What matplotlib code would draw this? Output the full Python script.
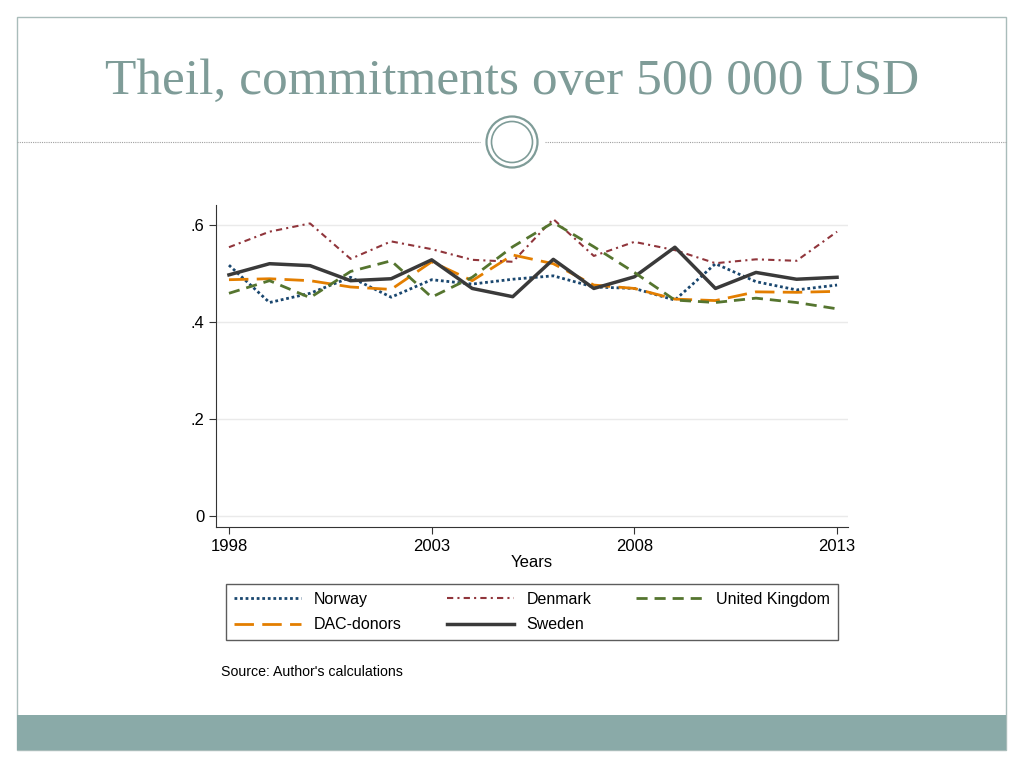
import matplotlib.pyplot as plt
from matplotlib.patches import Rectangle, Circle

plt.rcParams["font.family"] = ["Liberation Sans", "DejaVu Sans"]

# ---------------------------------------------------------------------------
# Data (Theil index)
# ---------------------------------------------------------------------------
years = list(range(1998, 2014))

norway = [0.517, 0.440, 0.459, 0.492, 0.451, 0.487, 0.478, 0.488,
          0.495, 0.472, 0.469, 0.445, 0.520, 0.483, 0.466, 0.476]
denmark = [0.554, 0.586, 0.603, 0.530, 0.566, 0.550, 0.528, 0.524,
           0.612, 0.536, 0.565, 0.548, 0.521, 0.529, 0.526, 0.586]
uk = [0.459, 0.485, 0.450, 0.504, 0.526, 0.451, 0.492, 0.555,
      0.605, 0.555, 0.502, 0.445, 0.440, 0.449, 0.440, 0.427]
dac = [0.487, 0.489, 0.485, 0.472, 0.467, 0.524, 0.485, 0.538,
       0.520, 0.476, 0.469, 0.447, 0.444, 0.462, 0.461, 0.463]
sweden = [0.497, 0.520, 0.516, 0.485, 0.489, 0.528, 0.469, 0.452,
          0.529, 0.469, 0.493, 0.554, 0.469, 0.502, 0.488, 0.492]

y_ticks = [0, 0.2, 0.4, 0.6]
y_tick_labels = ["0", ".2", ".4", ".6"]
x_ticks = [1998, 2003, 2008, 2013]

TEAL = "#7f9c98"

fig = plt.figure(figsize=(10.24, 7.68), dpi=100)

# ---------------------------------------------------------------------------
# Slide decoration
# ---------------------------------------------------------------------------
fig.patches.append(Rectangle((17 / 1024, 18 / 768), 989 / 1024, 733 / 768,
                             transform=fig.transFigure, fill=False,
                             edgecolor="#a9bcba", lw=1.0))
fig.patches.append(Rectangle((17 / 1024, 18 / 768), 989 / 1024, 35 / 768,
                             transform=fig.transFigure, facecolor="#8aaaa8",
                             edgecolor="none"))
fig.add_artist(plt.Line2D([17 / 1024, 480 / 1024], [1 - 142 / 768] * 2,
                          transform=fig.transFigure, color="#a0a0a0",
                          lw=0.8, ls=(0, (1, 1))))
fig.add_artist(plt.Line2D([545 / 1024, 1006 / 1024], [1 - 142 / 768] * 2,
                          transform=fig.transFigure, color="#a0a0a0",
                          lw=0.8, ls=(0, (1, 1))))
# double ring in the middle of the divider (inches, so it stays round)
for r, lw in [(0.255, 1.6), (0.205, 1.2)]:
    fig.patches.append(Circle((5.12, 7.68 - 1.42), r,
                              transform=fig.dpi_scale_trans, fill=False,
                              edgecolor=TEAL, lw=lw))

fig.text(0.5, 1 - 82 / 768, "Theil, commitments over 500 000 USD",
         ha="center", va="center", fontsize=37, color=TEAL,
         family="Liberation Serif")

# ---------------------------------------------------------------------------
# Chart
# ---------------------------------------------------------------------------
ax = fig.add_axes([216 / 1024, 1 - 527 / 768, 632 / 1024, 322 / 768])
ax.grid(axis="y", color="#eaeaea", lw=1)
ax.set_axisbelow(True)

ax.plot(years, norway, color="#1a476f", lw=2, ls=(0, (1.0, 1.0)), label="Norway")
ax.plot(years, dac, color="#e37e00", lw=2, ls=(0, (7, 3)), label="DAC-donors")
ax.plot(years, denmark, color="#90353b", lw=1.5, ls=(0, (3, 2, 1, 2)), label="Denmark")
ax.plot(years, sweden, color="#3a3a3a", lw=2.5, label="Sweden")
ax.plot(years, uk, color="#55752f", lw=2, ls=(0, (4, 2.5)), label="United Kingdom")

ax.set_xlim(1997.68, 2013.27)
ax.set_ylim(-0.0227, 0.641)
ax.set_yticks(y_ticks)
ax.set_yticklabels(y_tick_labels)
ax.set_xticks(x_ticks)
ax.tick_params(labelsize=12, color="#333333", length=5)
for s in ["top", "right"]:
    ax.spines[s].set_visible(False)
for s in ["left", "bottom"]:
    ax.spines[s].set_color("#333333")
ax.set_xlabel("Years", fontsize=12, labelpad=1)

handles, labels = ax.get_legend_handles_labels()
leg = fig.legend(handles, labels, ncol=3, loc="center",
                 bbox_to_anchor=(532 / 1024, 1 - 612 / 768),
                 frameon=True, fancybox=False, fontsize=11.5,
                 handlelength=4.2, handletextpad=0.8, columnspacing=2.8,
                 labelspacing=0.65, borderpad=0.5, borderaxespad=0)
leg.get_frame().set_edgecolor("#333333")
leg.get_frame().set_linewidth(1)

fig.text(221 / 1024, 1 - 672 / 768, "Source: Author's calculations",
         fontsize=10.2, va="center")

fig.savefig("out.png", dpi=100, facecolor="white")
